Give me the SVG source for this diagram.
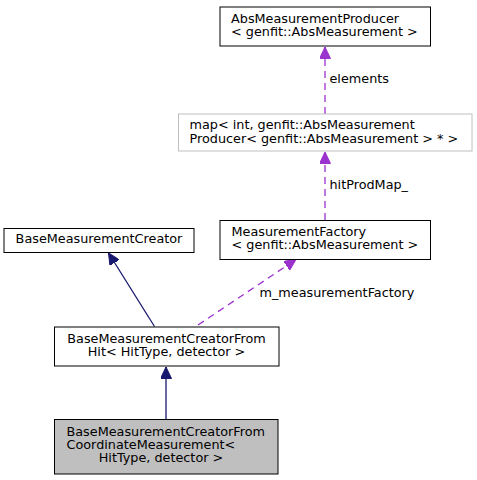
<svg xmlns="http://www.w3.org/2000/svg" width="477" height="480" viewBox="0 0 477 480">
<style>
text { font-family: "DejaVu Sans", "Noto Sans", sans-serif; font-size: 12.8px; fill: #000; }
.box { fill: #ffffff; stroke: #000000; stroke-width: 1; }
.grey { fill: #ffffff; stroke: #bfbfbf; stroke-width: 1; }
.cur { fill: #bfbfbf; stroke: #000000; stroke-width: 1; }
.inh { fill: none; stroke: #191970; stroke-width: 1.3; }
.use { fill: none; stroke: #9a32cd; stroke-width: 1.3; stroke-dasharray: 7,5; }
.mid { text-anchor: middle; }
</style>
<defs>
<marker id="ah-blue" markerUnits="userSpaceOnUse" markerWidth="12" markerHeight="11" refX="11.5" refY="5.5" orient="auto">
<path d="M0,0 L11.5,5.5 L0,11 z" fill="#191970" stroke="#191970"/>
</marker>
<marker id="ah-purple" markerUnits="userSpaceOnUse" markerWidth="12" markerHeight="11" refX="11.5" refY="5.5" orient="auto">
<path d="M0,0 L11.5,5.5 L0,11 z" fill="#9a32cd" stroke="#9a32cd"/>
</marker>
</defs>
<g id="connectors">
<path class="inh" d="M166,419 L166,367" marker-end="url(#ah-blue)"/>
<path class="inh" d="M154.5,326.5 L108.5,253" marker-end="url(#ah-blue)"/>
<path class="use" d="M198,325 L296,259.5" marker-end="url(#ah-purple)"/>
<text x="259.5" y="296.5">m_measurementFactory</text>
<path class="use" d="M325,220 L325,152" marker-end="url(#ah-purple)"/>
<text x="329.5" y="188.5">hitProdMap_</text>
<path class="use" d="M325,114 L325,47" marker-end="url(#ah-purple)"/>
<text x="329.5" y="82.5">elements</text>
</g>
<g id="node-current">
<rect class="cur" x="54.5" y="419.5" width="223.5" height="54.5"/>
<text x="66.5" y="435.5">BaseMeasurementCreatorFrom</text>
<text x="66.5" y="448.8">CoordinateMeasurement&lt;</text>
<text x="161" y="462" class="mid">HitType, detector &gt;</text>
</g>
<g id="node-fromhit">
<rect class="box" x="54.5" y="327" width="224.5" height="39"/>
<text x="166.5" y="342.7" class="mid">BaseMeasurementCreatorFrom</text>
<text x="166.5" y="356" class="mid">Hit&lt; HitType, detector &gt;</text>
</g>
<g id="node-base">
<rect class="box" x="4" y="228.5" width="190" height="24"/>
<text x="99" y="243" class="mid">BaseMeasurementCreator</text>
</g>
<g id="node-factory">
<rect class="box" x="220" y="220.5" width="210.5" height="39"/>
<text x="231.5" y="236">MeasurementFactory</text>
<text x="231.5" y="249.3">&lt; genfit::AbsMeasurement &gt;</text>
</g>
<g id="node-map">
<rect class="grey" x="178.5" y="114" width="293.5" height="37"/>
<text x="189.5" y="129.3">map&lt; int, genfit::AbsMeasurement</text>
<text x="189.5" y="142.6">Producer&lt; genfit::AbsMeasurement &gt; * &gt;</text>
</g>
<g id="node-producer">
<rect class="box" x="220" y="7" width="210.5" height="39"/>
<text x="231" y="22.5">AbsMeasurementProducer</text>
<text x="231" y="35.8">&lt; genfit::AbsMeasurement &gt;</text>
</g>
</svg>
